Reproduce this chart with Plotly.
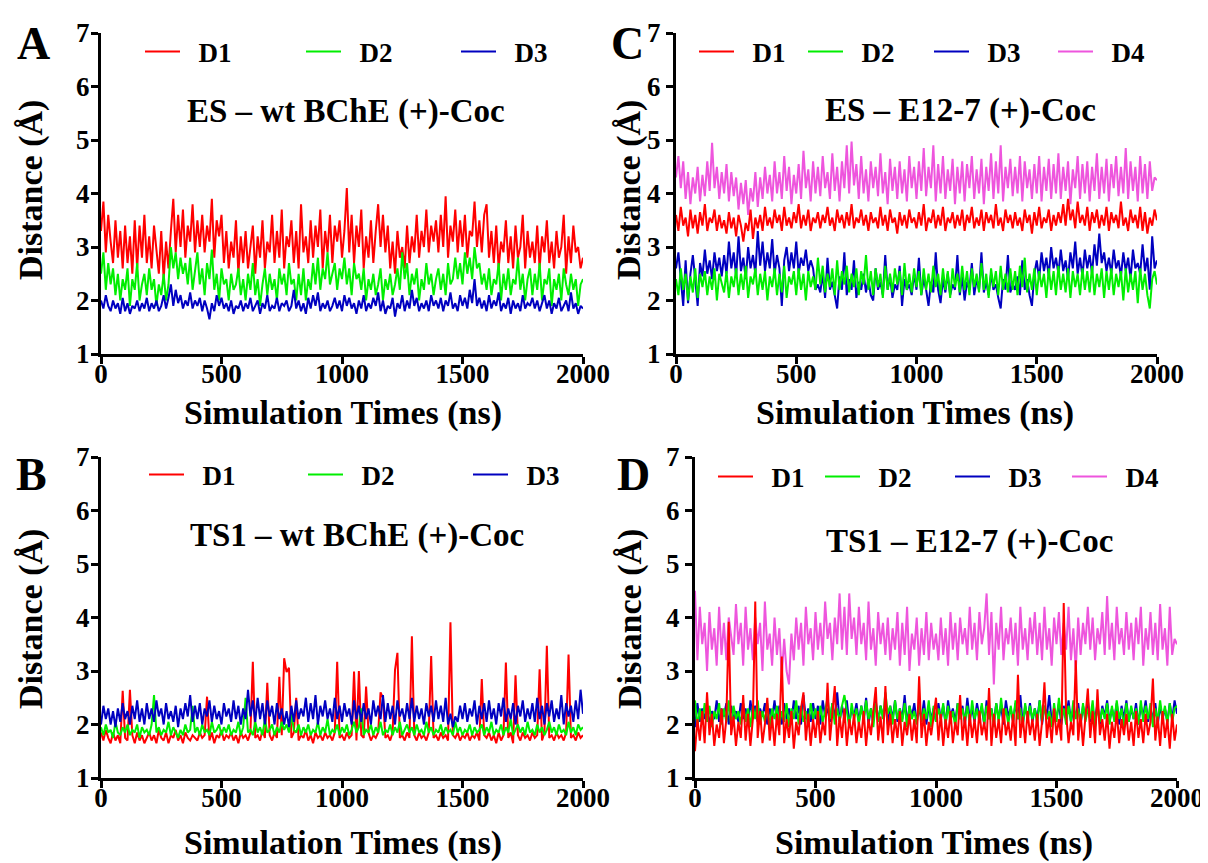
import plotly.graph_objects as go

# ---------------- data (distance in Angstrom, sampled every 10 ns) ----------------
TIMES = list(range(0, 2001, 10))
SERIES_NAMES = ["D1", "D2", "D3", "D4"]
X_TICKS = [0, 500, 1000, 1500, 2000]
Y_TICKS = [1, 2, 3, 4, 5, 6, 7]

# Panel A : ES - wt BChE (+)-Coc
A_D1 = [3.3, 3.85, 2.9, 3.6, 3.1, 2.7, 3.5, 2.8, 3.3, 2.6, 3.4, 2.7, 3.2, 2.5, 3.5, 2.6, 3.4, 2.8, 3.6, 2.7,
        3.2, 2.6, 3.4, 2.9, 2.5, 3.3, 2.4, 3.1, 2.6, 3.3, 3.9, 2.9, 3.6, 3.0, 3.7, 2.8, 3.4, 3.1, 3.8, 2.9,
        3.5, 3.0, 3.6, 2.9, 3.4, 3.1, 3.9, 2.8, 3.5, 3.2, 3.6, 2.7, 3.3, 2.6, 3.1, 2.8, 3.5, 2.5, 3.2, 2.7,
        3.3, 2.6, 3.0, 3.4, 2.5, 3.2, 2.8, 3.5, 2.6, 3.1, 2.9, 3.6, 2.7, 3.3, 2.8, 3.7, 2.6, 3.2, 3.0, 3.5,
        2.7, 3.3, 2.6, 3.8, 2.9, 3.2, 2.7, 3.5, 2.8, 3.4, 3.0, 3.7, 2.6, 3.3, 2.9, 3.6, 2.7, 3.4, 3.1, 3.5,
        2.8, 3.3, 4.1, 2.9, 3.6, 2.7, 3.4, 3.0, 3.7, 2.6, 3.2, 2.8, 3.5, 2.7, 3.3, 3.8, 3.0, 3.6, 2.9, 3.4,
        2.6, 3.1, 2.5, 3.3, 2.8, 3.0, 2.6, 3.4, 2.7, 3.2, 2.9, 3.6, 2.8, 3.3, 3.0, 3.7, 2.9, 3.4, 3.1, 3.5,
        2.9, 3.6, 3.0, 3.95, 2.8, 3.4, 3.1, 3.7, 2.9, 3.5, 3.0, 3.6, 2.8, 3.3, 3.2, 3.85, 3.0, 3.5, 2.9, 3.6,
        3.8, 2.8, 3.3, 2.7, 3.4, 2.6, 3.1, 2.9, 3.5, 2.7, 3.2, 2.6, 3.4, 2.8, 3.0, 3.6, 2.6, 3.3, 2.8, 3.1,
        2.7, 3.4, 2.6, 3.2, 2.9, 3.5, 2.7, 3.1, 2.6, 3.3, 2.8, 3.0, 3.6, 2.5, 3.2, 2.7, 3.4, 2.9, 3.0, 2.6,
        2.8]
A_D2 = [2.5, 2.9, 2.2, 2.7, 2.3, 2.6, 2.1, 2.5, 2.0, 2.4, 2.2, 2.6, 1.9, 2.4, 2.2, 2.7, 2.0, 2.3, 2.5, 2.1,
        2.6, 2.2, 2.4, 1.9, 2.3, 2.1, 2.5, 2.0, 2.3, 3.0, 2.6, 2.9, 2.4, 2.8, 2.5, 2.7, 2.3, 2.8, 2.2, 2.6,
        2.9, 2.3, 2.6, 2.1, 2.7, 2.4, 2.95, 2.2, 2.5, 2.0, 2.6, 2.3, 2.4, 2.0, 2.5, 2.2, 2.3, 2.6, 2.1, 2.4,
        2.0, 2.5, 2.2, 2.7, 2.1, 2.4, 1.9, 2.3, 2.6, 2.1, 2.5, 2.2, 2.4, 2.0, 2.6, 2.3, 2.5, 2.1, 2.7, 2.3,
        2.4, 2.0, 2.5, 2.1, 2.6, 2.0, 2.4, 2.2, 2.7, 2.3, 2.8, 2.2, 2.6, 2.4, 2.9, 2.3, 2.5, 2.7, 2.2, 2.6,
        2.4, 2.8, 2.3, 2.6, 2.1, 2.7, 2.4, 2.5, 2.2, 2.6, 2.0, 2.4, 2.2, 2.5, 2.1, 2.3, 2.6, 2.0, 2.4, 2.2,
        2.5, 2.1, 2.3, 2.6, 2.2, 2.9, 2.4, 2.7, 2.1, 2.5, 2.3, 2.6, 2.0, 2.4, 2.2, 2.7, 2.3, 2.5, 2.1, 2.4,
        2.6, 2.2, 2.5, 2.1, 2.7, 2.3, 2.4, 2.8, 2.4, 2.7, 2.3, 2.9, 2.5, 2.8, 2.4, 3.0, 2.6, 2.7, 2.3, 2.5,
        2.2, 2.6, 2.1, 2.4, 2.3, 2.7, 2.0, 2.5, 2.2, 2.6, 2.1, 2.4, 2.3, 2.8, 2.2, 2.5, 2.0, 2.4, 2.6, 2.1,
        2.5, 2.2, 2.7, 2.0, 2.4, 2.3, 2.6, 1.9, 2.4, 2.2, 2.5, 2.0, 2.6, 2.3, 2.1, 2.5, 2.2, 2.4, 1.9, 2.3,
        2.4]
A_D3 = [2.0, 1.85, 2.1, 1.9, 1.8, 2.0, 1.85, 1.95, 1.75, 2.05, 1.8, 1.95, 1.75, 1.9, 1.85, 2.0, 1.8, 1.95, 1.85, 2.05,
        1.8, 1.95, 1.85, 2.0, 1.8, 1.9, 2.1, 1.85, 2.05, 2.3, 1.9, 2.2, 1.95, 2.1, 1.85, 2.0, 1.9, 2.15, 1.85, 2.0,
        1.9, 2.05, 1.8, 2.0, 1.85, 1.65, 1.95, 1.8, 2.1, 1.9, 2.05, 1.85, 1.95, 1.8, 2.0, 1.75, 1.9, 1.85, 2.0, 1.8,
        1.95, 1.85, 2.05, 1.8, 1.9, 2.0, 1.75, 1.95, 1.85, 2.1, 1.8, 1.9, 1.85, 2.05, 1.8, 1.95, 1.9, 2.0, 1.8, 1.9,
        2.2, 1.85, 2.0, 1.8, 1.95, 1.75, 2.05, 1.85, 2.1, 1.9, 2.15, 1.8, 1.95, 1.85, 2.0, 1.8, 1.9, 2.05, 1.85, 2.0,
        1.8, 2.1, 1.9, 2.05, 1.85, 1.95, 1.75, 2.0, 1.85, 2.1, 1.8, 1.95, 1.85, 2.05, 1.9, 2.15, 1.8, 2.0, 1.75, 1.9,
        1.85, 2.05, 1.7, 1.95, 1.85, 2.1, 1.8, 2.0, 1.85, 2.2, 1.9, 2.05, 1.8, 1.95, 1.85, 2.0, 1.8, 2.1, 1.9, 2.0,
        1.85, 2.05, 1.8, 2.0, 1.9, 2.15, 1.85, 1.95, 1.8, 2.1, 1.9, 2.05, 1.85, 2.2, 1.95, 2.4, 1.9, 2.05, 1.85, 2.0,
        1.8, 2.1, 1.85, 2.0, 1.9, 2.15, 1.8, 1.95, 1.85, 2.05, 1.75, 2.0, 1.85, 1.95, 1.8, 2.1, 1.85, 1.95, 1.9, 2.05,
        1.85, 2.0, 1.8, 1.95, 2.1, 1.85, 2.0, 1.75, 1.95, 1.85, 2.05, 1.8, 1.9, 2.0, 1.8, 2.15, 1.85, 1.95, 1.75, 1.9,
        1.85]

# Panel B : TS1 - wt BChE (+)-Coc
B_D1 = [1.85, 1.7, 1.9, 1.75, 1.65, 1.85, 1.7, 1.8, 1.65, 2.63, 1.75, 1.7, 2.65, 1.8, 1.65, 1.85, 1.7, 1.8, 1.65, 1.75,
        1.85, 1.7, 1.8, 1.65, 1.9, 1.75, 1.7, 1.85, 1.65, 1.8, 1.75, 1.9, 1.7, 1.8, 1.65, 1.85, 1.75, 1.7, 1.8, 1.75,
        1.7, 1.85, 1.75, 1.8, 2.52, 1.7, 1.85, 1.65, 1.8, 1.75, 1.9, 1.7, 1.8, 1.75, 1.85, 1.7, 1.8, 1.65, 1.85, 1.75,
        1.8, 1.7, 1.85, 3.17, 1.75, 1.8, 1.7, 1.9, 1.75, 2.78, 1.8, 1.7, 1.85, 1.75, 2.89, 1.8, 3.24, 2.98, 3.06, 1.75,
        1.85, 2.5, 1.7, 1.8, 1.75, 1.9, 1.7, 1.8, 1.65, 1.85, 1.75, 1.8, 1.7, 1.85, 1.75, 1.8, 1.7, 1.85, 3.17, 1.75,
        1.8, 1.7, 1.85, 1.75, 1.8, 2.99, 1.7, 3.0, 1.8, 1.75, 2.71, 1.85, 1.7, 1.8, 1.75, 1.85, 2.6, 2.5, 1.75, 1.8,
        1.7, 1.85, 3.02, 3.34, 1.75, 1.8, 1.7, 1.85, 1.75, 3.65, 1.8, 1.7, 1.85, 1.75, 1.8, 1.7, 1.85, 3.28, 1.75, 1.8,
        1.7, 1.85, 1.75, 1.8, 1.7, 3.91, 1.8, 1.75, 1.85, 1.7, 1.8, 1.75, 1.85, 1.7, 1.8, 1.75, 1.85, 1.7, 2.85, 1.8,
        1.75, 1.85, 1.7, 1.8, 1.65, 1.85, 1.7, 1.8, 3.16, 1.75, 1.85, 1.65, 2.92, 1.8, 1.7, 1.85, 1.75, 1.8, 1.7, 1.85,
        1.75, 1.8, 3.03, 1.7, 1.85, 3.47, 1.75, 1.8, 1.7, 1.85, 1.75, 1.8, 1.7, 1.85, 3.31, 1.75, 1.8, 1.7, 1.85, 1.75,
        1.8]
B_D2 = [1.95, 1.8, 2.0, 1.85, 1.9, 1.75, 2.05, 1.85, 1.8, 1.95, 1.85, 2.0, 1.8, 1.9, 1.85, 2.0, 1.75, 1.95, 1.85, 1.9,
        1.8, 2.0, 2.55, 1.85, 1.95, 1.8, 1.9, 1.85, 2.05, 1.8, 1.95, 1.85, 1.75, 1.9, 1.8, 2.0, 1.85, 1.9, 2.35, 1.85,
        1.95, 1.8, 2.0, 1.85, 1.9, 1.8, 2.05, 1.85, 1.9, 2.0, 1.8, 1.95, 1.85, 2.0, 1.8, 1.9, 1.85, 2.05, 1.8, 1.95,
        2.5, 1.85, 1.9, 1.8, 2.05, 1.85, 1.95, 1.8, 2.1, 1.85, 1.9, 2.0, 1.8, 1.95, 1.85, 2.05, 1.9, 2.0, 1.85, 2.2,
        1.9, 1.85, 2.0, 1.8, 1.95, 1.85, 2.0, 1.8, 1.9, 1.85, 2.05, 1.8, 1.95, 1.85, 2.1, 1.8, 1.9, 1.85, 2.0, 1.8,
        1.95, 1.85, 2.0, 1.8, 1.9, 2.05, 1.85, 1.95, 2.3, 1.8, 1.9, 1.85, 2.0, 1.8, 1.95, 1.85, 2.05, 1.8, 1.9, 1.85,
        2.0, 1.8, 1.95, 1.85, 2.05, 1.8, 1.9, 2.0, 1.85, 1.95, 1.8, 2.0, 1.85, 1.9, 1.8, 2.05, 1.85, 1.95, 1.8, 1.9,
        1.85, 2.0, 1.8, 1.95, 1.85, 1.9, 1.8, 2.05, 1.85, 1.95, 1.8, 1.9, 1.85, 2.0, 1.8, 1.95, 1.85, 1.9, 2.0, 1.8,
        1.95, 1.85, 2.05, 1.8, 1.9, 1.85, 2.0, 1.8, 1.95, 1.85, 2.1, 1.8, 1.9, 2.0, 1.85, 1.95, 1.8, 2.05, 1.85, 1.9,
        1.8, 2.0, 1.85, 1.95, 1.8, 1.9, 2.05, 1.85, 1.95, 1.8, 2.0, 1.85, 1.9, 1.8, 2.05, 1.85, 1.95, 1.8, 2.0, 1.9,
        1.95]
B_D3 = [2.0, 2.35, 2.1, 2.3, 2.0, 2.25, 1.95, 2.3, 2.05, 2.4, 2.1, 2.25, 2.0, 2.35, 2.1, 2.45, 2.05, 2.3, 2.0, 2.4,
        2.1, 2.3, 2.05, 2.45, 2.15, 2.3, 2.0, 2.4, 2.1, 2.25, 2.05, 2.35, 1.95, 2.3, 2.1, 2.4, 2.15, 2.55, 2.05, 2.35,
        2.1, 2.4, 2.0, 2.3, 2.15, 2.45, 2.05, 2.35, 2.1, 2.25, 2.0, 2.4, 2.15, 2.3, 2.05, 2.45, 2.1, 2.35, 2.0, 2.3,
        2.1, 2.65, 2.15, 2.45, 2.05, 2.5, 2.1, 2.4, 2.0, 2.45, 2.15, 2.35, 2.0, 2.4, 2.1, 2.3, 2.0, 2.25, 1.95, 2.35,
        2.05, 2.45, 2.1, 2.3, 2.15, 2.5, 2.05, 2.4, 2.1, 2.55, 2.0, 2.35, 2.15, 2.45, 2.1, 2.3, 2.05, 2.5, 2.1, 2.35,
        2.05, 2.4, 2.15, 2.3, 2.0, 2.45, 2.1, 2.35, 2.05, 2.4, 2.1, 2.3, 2.0, 2.45, 2.15, 2.35, 2.1, 2.55, 2.05, 2.4,
        2.1, 2.35, 2.0, 2.45, 2.15, 2.3, 2.05, 2.4, 2.1, 2.5, 2.05, 2.35, 2.1, 2.3, 2.0, 2.4, 2.15, 2.35, 2.05, 2.45,
        2.1, 2.35, 2.05, 2.5, 2.0, 2.2, 1.95, 2.15, 2.05, 2.35, 2.1, 2.4, 2.05, 2.3, 2.15, 2.45, 2.0, 2.35, 2.1, 2.4,
        2.05, 2.45, 2.1, 2.3, 2.0, 2.4, 2.15, 2.5, 2.05, 2.3, 2.1, 2.4, 2.0, 2.35, 2.15, 2.45, 2.05, 2.3, 2.1, 2.4,
        2.05, 2.5, 2.1, 2.35, 2.0, 2.4, 2.15, 2.45, 2.05, 2.3, 2.1, 2.55, 2.0, 2.4, 2.15, 2.35, 2.05, 2.45, 2.1, 2.65,
        2.2]

# Panel C : ES - E12-7 (+)-Coc
C_D1 = [3.6, 3.3, 3.75, 3.4, 3.55, 3.2, 3.7, 3.35, 3.6, 3.25, 3.65, 3.4, 3.8, 3.3, 3.55, 3.45, 3.7, 3.3, 3.6, 3.35,
        3.5, 3.25, 3.65, 3.35, 3.55, 3.2, 3.6, 3.4, 3.1, 3.45, 3.3, 3.7, 3.15, 3.55, 3.35, 3.6, 3.3, 3.75, 3.4, 3.55,
        3.35, 3.7, 3.45, 3.6, 3.3, 3.75, 3.4, 3.55, 3.35, 3.65, 3.45, 3.8, 3.35, 3.6, 3.4, 3.7, 3.3, 3.55, 3.45, 3.65,
        3.35, 3.6, 3.45, 3.75, 3.4, 3.55, 3.3, 3.7, 3.45, 3.6, 3.35, 3.65, 3.4, 3.8, 3.35, 3.55, 3.45, 3.7, 3.4, 3.6,
        3.3, 3.65, 3.45, 3.55, 3.35, 3.75, 3.4, 3.6, 3.3, 3.7, 3.45, 3.55, 3.25, 3.65, 3.4, 3.6, 3.35, 3.7, 3.45, 3.55,
        3.35, 3.65, 3.4, 3.8, 3.3, 3.55, 3.45, 3.7, 3.35, 3.6, 3.4, 3.75, 3.3, 3.55, 3.45, 3.65, 3.35, 3.6, 3.4, 3.7,
        3.3, 3.6, 3.45, 3.75, 3.35, 3.55, 3.4, 3.7, 3.3, 3.65, 3.45, 3.6, 3.35, 3.8, 3.4, 3.55, 3.3, 3.7, 3.45, 3.6,
        3.35, 3.65, 3.4, 3.55, 3.3, 3.7, 3.45, 3.6, 3.25, 3.65, 3.4, 3.75, 3.35, 3.55, 3.45, 3.7, 3.3, 3.6, 3.4, 3.65,
        3.45, 3.8, 3.4, 3.9, 3.5, 3.7, 3.35, 3.85, 3.45, 3.6, 3.4, 3.75, 3.3, 3.65, 3.45, 3.7, 3.35, 3.6, 3.4, 3.75,
        3.3, 3.65, 3.45, 3.6, 3.35, 3.85, 3.4, 3.55, 3.3, 3.7, 3.45, 3.6, 3.35, 3.75, 3.3, 3.65, 3.25, 3.55, 3.4, 3.7,
        3.5]
C_D2 = [2.4, 2.1, 2.6, 2.2, 2.5, 2.0, 2.45, 2.15, 2.6, 2.05, 2.5, 2.25, 2.55, 2.1, 2.45, 2.2, 2.6, 2.0, 2.5, 2.3,
        2.15, 2.55, 2.05, 2.45, 2.25, 2.6, 2.1, 2.5, 2.2, 2.65, 2.05, 2.45, 2.3, 2.6, 2.1, 2.5, 2.2, 2.55, 2.0, 2.45,
        2.25, 2.6, 2.1, 2.5, 2.15, 2.65, 2.05, 2.45, 2.3, 2.55, 2.1, 2.6, 2.2, 2.5, 2.0, 2.55, 2.25, 2.45, 2.2, 2.8,
        2.3, 2.65, 2.15, 2.5, 2.25, 2.6, 2.1, 2.75, 2.2, 2.55, 2.3, 2.65, 2.15, 2.5, 2.25, 2.6, 2.1, 2.55, 2.3, 2.85,
        2.2, 2.55, 2.1, 2.6, 2.25, 2.5, 2.05, 2.65, 2.2, 2.5, 2.15, 2.6, 2.3, 2.55, 2.1, 2.7, 2.2, 2.5, 2.15, 2.6,
        2.25, 2.55, 2.1, 2.6, 2.2, 2.5, 2.15, 2.65, 2.25, 2.5, 2.1, 2.6, 2.2, 2.55, 2.05, 2.6, 2.25, 2.5, 2.15, 2.65,
        2.2, 2.55, 2.1, 2.6, 2.25, 2.5, 2.15, 2.7, 2.2, 2.5, 2.05, 2.6, 2.25, 2.55, 2.1, 2.65, 2.2, 2.5, 2.15, 2.6,
        2.2, 2.55, 2.1, 2.65, 2.25, 2.8, 2.15, 2.5, 2.2, 2.6, 2.1, 2.55, 2.25, 2.5, 2.05, 2.6, 2.2, 2.55, 2.1, 2.65,
        2.2, 2.5, 2.15, 2.6, 2.05, 2.55, 2.25, 2.5, 2.1, 2.6, 2.2, 2.55, 2.15, 2.65, 2.1, 2.5, 2.25, 2.6, 2.05, 2.55,
        2.2, 2.6, 2.1, 2.5, 2.25, 2.55, 2.0, 2.6, 2.15, 2.5, 2.2, 2.55, 1.95, 2.6, 2.2, 2.5, 2.1, 1.85, 2.4, 2.55,
        2.3]
C_D3 = [2.6, 2.9, 2.4, 1.9, 2.75, 1.95, 2.5, 2.85, 2.4, 1.9, 2.7, 2.45, 2.95, 2.5, 2.75, 2.4, 2.9, 2.55, 2.8, 2.45,
        2.85, 2.5, 3.1, 2.6, 2.9, 2.45, 3.2, 2.55, 2.8, 2.4, 3.0, 2.6, 2.85, 2.5, 3.3, 2.65, 3.1, 2.55, 2.9, 2.6,
        3.15, 2.5, 2.85, 2.6, 1.9, 2.75, 3.0, 2.55, 2.9, 2.6, 3.1, 2.5, 2.8, 2.65, 2.95, 2.55, 2.75, 2.6, 2.2, 2.3,
        2.15, 2.5, 2.05, 2.8, 2.2, 2.35, 2.1, 1.85, 2.45, 2.2, 2.9, 2.1, 2.4, 2.2, 2.75, 2.05, 2.35, 2.2, 2.5, 2.15,
        2.4, 2.1, 2.0, 2.6, 2.2, 2.35, 2.1, 2.85, 2.2, 2.45, 2.05, 2.3, 2.2, 2.65, 1.9, 2.4, 2.2, 2.3, 2.1, 2.5,
        2.2, 2.8, 2.1, 2.4, 2.2, 1.9, 2.35, 2.15, 2.9, 2.2, 1.95, 2.4, 2.15, 2.5, 2.1, 2.3, 2.2, 2.85, 2.1, 2.45,
        2.0, 2.35, 2.2, 2.7, 2.1, 2.4, 2.2, 2.9, 2.15, 2.35, 2.1, 2.5, 2.2, 2.3, 2.05, 1.85, 2.4, 2.2, 2.85, 2.15,
        2.3, 2.2, 2.45, 2.1, 2.75, 2.2, 2.4, 2.1, 1.9, 2.5, 2.75, 2.4, 2.9, 2.55, 2.8, 2.45, 3.0, 2.6, 2.8, 2.5,
        2.95, 2.55, 2.75, 2.4, 2.9, 2.6, 3.1, 2.5, 2.8, 2.45, 2.95, 2.6, 2.85, 2.5, 3.05, 2.65, 3.25, 2.7, 2.9, 2.55,
        2.8, 2.5, 2.95, 2.6, 2.75, 2.45, 2.9, 2.55, 2.8, 2.4, 2.95, 2.6, 2.7, 2.5, 3.05, 2.55, 2.8, 2.2, 3.2, 2.6,
        2.75]
C_D4 = [4.3, 4.7, 4.1, 4.6, 3.9, 4.4, 3.8, 4.3, 4.0, 4.5, 3.85, 4.35, 3.95, 4.6, 4.05, 4.95, 4.1, 4.5, 3.9, 4.4,
        4.0, 4.55, 3.85, 4.4, 3.95, 4.3, 3.7, 4.2, 3.8, 4.25, 3.6, 4.1, 3.85, 4.4, 3.75, 4.3, 3.9, 4.5, 4.0, 4.35,
        3.85, 4.6, 4.0, 4.4, 3.9, 4.7, 4.05, 4.5, 3.8, 4.35, 4.0, 4.55, 3.9, 4.8, 4.1, 4.45, 3.85, 4.6, 4.0, 4.5,
        3.95, 4.7, 4.1, 4.4, 3.9, 4.75, 4.05, 4.5, 3.85, 4.6, 4.1, 4.9, 4.0, 4.97, 4.15, 4.55, 3.9, 4.7, 4.0, 4.45,
        3.85, 4.6, 4.1, 4.5, 3.95, 4.75, 4.0, 4.4, 3.8, 4.65, 4.05, 4.5, 3.9, 4.6, 4.0, 4.45, 3.85, 4.7, 4.1, 4.5,
        3.9, 4.6, 4.05, 4.85, 3.95, 4.5, 4.1, 4.9, 3.85, 4.55, 4.0, 4.7, 3.9, 4.45, 4.05, 4.65, 3.8, 4.5, 4.0, 4.6,
        3.85, 4.55, 4.1, 4.7, 3.9, 4.45, 4.0, 4.65, 3.8, 4.5, 4.05, 4.75, 3.9, 4.6, 4.0, 4.9, 3.85, 4.5, 4.1, 4.65,
        3.95, 4.5, 4.0, 4.7, 3.85, 4.6, 4.1, 4.45, 3.9, 4.55, 4.0, 4.7, 3.85, 4.5, 4.05, 4.65, 3.9, 4.55, 4.0, 4.75,
        3.9, 4.5, 4.05, 4.6, 3.8, 4.45, 4.1, 4.7, 3.9, 4.55, 4.0, 4.6, 3.85, 4.5, 4.05, 4.75, 3.9, 4.5, 4.0, 4.65,
        3.85, 4.55, 4.1, 4.7, 3.95, 4.5, 4.0, 4.85, 3.9, 4.6, 4.05, 4.5, 3.85, 4.7, 4.0, 4.55, 3.9, 4.6, 4.05, 4.3,
        4.25]

# Panel D : TS1 - E12-7 (+)-Coc
D_D1 = [1.5, 2.1, 1.7, 2.25, 1.65, 2.6, 1.8, 2.2, 1.6, 2.0, 1.75, 2.3, 1.65, 2.1, 3.92, 1.8, 2.15, 1.6, 2.05, 1.75,
        2.55, 1.7, 2.2, 1.6, 2.1, 4.3, 1.75, 2.25, 1.65, 2.0, 2.5, 1.7, 2.15, 1.6, 2.2, 1.8, 3.27, 1.65, 2.1, 1.75,
        2.25, 1.55, 2.05, 1.8, 2.3, 2.6, 1.7, 2.2, 1.6, 2.1, 1.75, 2.25, 1.65, 2.05, 1.8, 2.78, 1.7, 2.2, 2.72, 1.6,
        2.15, 1.75, 2.3, 1.6, 2.1, 1.8, 2.2, 1.65, 2.05, 1.75, 2.25, 1.6, 2.1, 1.8, 2.2, 2.7, 1.7, 2.15, 1.65, 2.72,
        1.8, 2.2, 1.65, 2.1, 1.75, 2.25, 1.6, 2.05, 1.8, 2.2, 1.7, 2.1, 1.65, 2.9, 1.75, 2.2, 1.6, 2.05, 1.8, 2.15,
        2.5, 1.7, 2.2, 1.6, 2.1, 1.75, 2.25, 1.65, 2.05, 1.8, 2.55, 1.7, 2.15, 1.6, 2.2, 1.75, 2.1, 1.65, 2.25, 1.8,
        2.05, 1.7, 2.68, 1.6, 2.2, 1.75, 2.1, 1.65, 2.3, 1.8, 2.05, 1.7, 2.2, 1.6, 2.93, 1.75, 2.15, 1.65, 2.25, 1.8,
        2.1, 1.7, 2.2, 1.6, 2.05, 2.79, 1.75, 2.15, 1.65, 2.3, 1.8, 2.1, 1.7, 4.27, 2.2, 1.65, 2.05, 1.8, 3.2, 1.7,
        2.2, 1.6, 2.1, 2.67, 1.75, 2.25, 1.65, 2.66, 1.8, 2.1, 1.7, 2.2, 1.55, 2.05, 1.75, 2.25, 1.65, 2.1, 1.8, 2.2,
        1.7, 2.05, 1.6, 2.25, 1.75, 2.1, 1.65, 2.2, 1.8, 2.05, 2.86, 1.7, 2.15, 1.6, 2.25, 1.75, 2.1, 1.55, 2.2, 1.7,
        2.0]
D_D2 = [2.45, 1.95, 2.3, 2.0, 2.4, 2.05, 2.35, 1.95, 2.25, 2.1, 2.4, 2.0, 2.3, 2.05, 2.45, 1.95, 2.35, 2.1, 2.25, 2.0,
        2.4, 2.05, 2.3, 1.95, 2.35, 2.1, 2.45, 2.0, 2.25, 2.05, 2.4, 1.95, 2.3, 2.1, 2.35, 2.0, 2.25, 2.05, 2.4, 1.95,
        2.3, 2.1, 2.45, 2.0, 2.35, 2.05, 2.25, 1.95, 2.4, 2.1, 2.3, 2.0, 2.35, 2.05, 2.25, 2.5, 2.1, 2.4, 2.0, 2.3,
        2.05, 2.35, 2.55, 2.25, 1.95, 2.4, 2.1, 2.3, 2.0, 2.35, 2.05, 2.45, 2.1, 2.3, 1.95, 2.4, 2.05, 2.35, 2.1, 2.6,
        2.2, 2.35, 2.0, 2.45, 2.1, 2.3, 2.05, 2.4, 1.95, 2.35, 2.1, 2.25, 2.0, 2.4, 2.05, 2.3, 2.1, 2.45, 1.95, 2.35,
        2.05, 2.3, 2.1, 2.4, 2.0, 2.35, 2.05, 2.25, 1.95, 2.4, 2.1, 2.3, 2.05, 2.35, 2.0, 2.45, 2.1, 2.3, 2.05, 2.4,
        2.0, 2.35, 2.1, 2.3, 1.95, 2.4, 2.05, 2.5, 2.1, 2.3, 2.0, 2.35, 2.05, 2.45, 2.1, 2.3, 1.95, 2.4, 2.05, 2.35,
        2.1, 2.3, 2.0, 2.45, 2.05, 2.35, 2.1, 2.25, 1.95, 2.4, 2.05, 2.5, 2.1, 2.3, 2.0, 2.35, 2.05, 2.45, 2.1, 2.3,
        2.0, 2.4, 2.05, 2.3, 2.1, 2.45, 1.95, 2.35, 2.05, 2.3, 2.1, 2.4, 2.0, 2.35, 2.05, 2.45, 2.1, 2.3, 1.95, 2.4,
        2.05, 2.35, 2.1, 2.3, 2.0, 2.45, 2.05, 2.35, 2.1, 2.4, 1.95, 2.3, 2.05, 2.45, 2.1, 2.35, 2.0, 2.4, 2.05, 2.3,
        2.35]
D_D3 = [1.95, 2.4, 2.05, 2.3, 2.1, 2.35, 2.0, 2.25, 2.1, 2.45, 2.05, 2.3, 2.15, 2.4, 2.0, 2.35, 2.1, 2.25, 2.05, 2.4,
        2.1, 2.3, 2.0, 2.45, 2.1, 2.35, 2.05, 2.3, 2.15, 2.4, 2.0, 2.3, 2.1, 2.45, 2.05, 2.35, 2.0, 2.4, 2.1, 2.3,
        2.05, 2.45, 2.1, 2.35, 2.0, 2.55, 2.1, 2.3, 2.05, 2.4, 2.1, 2.35, 2.0, 2.45, 2.15, 2.3, 2.05, 2.4, 2.1, 2.6,
        2.05, 2.35, 2.1, 2.45, 2.0, 2.3, 2.15, 2.4, 2.05, 2.35, 2.1, 2.5, 2.0, 2.3, 2.1, 2.45, 2.05, 2.35, 2.15, 2.4,
        2.0, 2.35, 2.1, 2.45, 2.05, 2.3, 2.1, 2.55, 2.0, 2.35, 2.15, 2.4, 2.05, 2.3, 2.1, 2.45, 2.0, 2.35, 2.1, 2.3,
        2.05, 2.4, 2.1, 2.35, 2.0, 2.45, 2.15, 2.3, 2.05, 2.4, 2.1, 2.35, 2.0, 2.5, 2.1, 2.3, 2.05, 2.4, 2.15, 2.35,
        2.0, 2.45, 2.1, 2.3, 2.05, 2.4, 2.1, 2.35, 2.0, 2.45, 2.15, 2.3, 2.05, 2.4, 2.1, 2.55, 2.0, 2.35, 2.1, 2.4,
        2.05, 2.3, 2.1, 2.45, 2.0, 2.35, 2.15, 2.55, 2.05, 2.3, 2.1, 2.4, 2.0, 2.35, 2.1, 2.45, 2.05, 2.3, 2.15, 2.4,
        2.0, 2.35, 2.1, 2.45, 2.05, 2.3, 2.1, 2.4, 2.0, 2.35, 2.15, 2.45, 2.05, 2.3, 2.1, 2.4, 2.0, 2.35, 2.1, 2.45,
        2.05, 2.3, 2.1, 2.4, 2.0, 2.35, 2.15, 2.45, 2.05, 2.3, 2.1, 2.4, 2.0, 2.35, 2.1, 2.3, 2.05, 2.4, 2.1, 2.45,
        2.2]
D_D4 = [4.5, 3.2, 4.2, 3.5, 3.9, 3.0, 4.1, 3.4, 3.8, 3.1, 4.2, 3.3, 3.9, 3.2, 4.0, 3.6, 3.3, 4.25, 3.5, 3.9,
        3.1, 4.2, 3.4, 3.8, 3.2, 4.0, 3.5, 3.9, 3.0, 4.3, 3.4, 3.7, 3.1, 4.0, 3.3, 3.8, 2.9, 3.6, 3.0, 2.75,
        3.7, 3.2, 4.0, 3.4, 3.9, 3.1, 4.2, 3.5, 3.8, 3.2, 4.1, 3.4, 3.9, 3.3, 4.3, 3.6, 3.9, 3.2, 4.0, 3.5,
        4.45, 3.4, 4.2, 3.3, 4.45, 3.6, 4.0, 3.3, 4.2, 3.5, 3.9, 3.2, 4.3, 3.4, 3.8, 3.1, 4.1, 3.5, 3.9, 3.3,
        4.0, 3.2, 3.8, 3.4, 4.1, 3.1, 3.9, 3.3, 4.2, 3.0, 3.7, 3.4, 4.0, 3.1, 3.8, 3.3, 4.1, 3.2, 3.9, 3.4,
        3.7, 3.2, 4.0, 3.3, 3.8, 3.1, 4.1, 3.4, 3.9, 3.2, 4.0, 3.5, 3.8, 3.3, 4.2, 3.4, 3.9, 3.2, 4.1, 3.5,
        3.8, 4.45, 3.3, 4.1, 2.75, 3.9, 3.4, 4.2, 3.2, 3.8, 3.5, 4.0, 3.3, 3.9, 3.1, 4.2, 3.4, 3.8, 3.2, 4.0,
        3.5, 4.1, 3.3, 3.9, 3.2, 4.2, 3.4, 3.8, 3.1, 4.0, 3.5, 4.1, 3.3, 3.9, 3.4, 4.2, 3.2, 3.8, 3.0, 4.0,
        3.3, 3.9, 3.5, 4.2, 3.4, 4.0, 3.2, 3.8, 3.5, 4.1, 3.3, 4.4, 3.4, 3.9, 3.2, 4.2, 3.5, 3.8, 3.3, 4.1,
        3.4, 3.9, 3.2, 4.0, 3.5, 4.2, 3.1, 3.8, 3.4, 4.1, 3.3, 3.9, 3.2, 4.25, 3.4, 3.8, 3.1, 4.2, 3.3, 3.6,
        3.5]

PANEL_TITLES = ["ES \u2013 wt BChE (+)-Coc", "TS1 \u2013 wt BChE (+)-Coc",
                "ES \u2013 E12-7 (+)-Coc", "TS1 \u2013 E12-7 (+)-Coc"]
PANEL_LETTERS = ["A", "B", "C", "D"]
X_TITLE = "Simulation Times (ns)"
Y_TITLE = "Distance (\u00c5)"

# ---------------- styling ----------------
# the page body adds an 8 px margin, so the figure is 8 px smaller and positions are shifted
OFF = 8
W, H = 1200, 855
FONT = "Liberation Serif, Times New Roman, serif"
COLORS = {"D1": "#FF0000", "D2": "#00EE00", "D3": "#0000C0", "D4": "#EE55DD"}


def px(x):
    return (x - OFF) / W


def py(y):
    return 1 - (y - OFF) / H


panels = [
    dict(sfx="", data=[A_D1, A_D2, A_D3], order=[0, 1, 2], xd=(101, 583), yd=(33, 354),
         leg=dict(x=140, y=52, ew=[111, 105, 100]), ystand=-4,
         letter=(33, 43), title=(346, 112), ytitle=(31, 190), xtitle=(343, 413)),
    dict(sfx="2", data=[B_D1, B_D2, B_D3], order=[0, 1, 2], xd=(101, 583), yd=(457, 778),
         leg=dict(x=144, y=475, ew=[109, 115, 100]), ystand=-4,
         letter=(31, 474), title=(357, 535), ytitle=(31, 619), xtitle=(343, 843)),
    dict(sfx="3", data=[C_D1, C_D2, C_D3, C_D4], order=[3, 2, 1, 0], xd=(676, 1157), yd=(33, 354),
         leg=dict(x=694, y=52, ew=[59, 76, 74, 60]), ystand=0,
         letter=(627, 43), title=(960, 110), ytitle=(629, 190), xtitle=(915, 413)),
    dict(sfx="4", data=[D_D1, D_D2, D_D3, D_D4], order=[3, 2, 1, 0], xd=(695, 1177), yd=(457, 778),
         leg=dict(x=713, y=477, ew=[57, 80, 67, 60]), ystand=0,
         letter=(633, 474), title=(969, 541), ytitle=(630, 619), xtitle=(934, 843)),
]

fig = go.Figure()
layout = dict(width=W, height=H, margin=dict(l=0, r=0, t=0, b=0, autoexpand=False),
              paper_bgcolor="white", plot_bgcolor="white", showlegend=True,
              font=dict(family=FONT, color="black"))
annotations = []


def add_text(text, pos, size, angle=0):
    annotations.append(dict(text=text, x=px(pos[0]), y=py(pos[1]), xref="paper", yref="paper",
                            xanchor="center", yanchor="middle", showarrow=False, textangle=angle,
                            font=dict(family=FONT, size=size, color="black", weight="bold")))


for i, p in enumerate(panels):
    sfx = p["sfx"]
    legname = "legend" + sfx
    lg = p["leg"]
    for k in p["order"]:
        name = SERIES_NAMES[k]
        fig.add_trace(go.Scatter(
            x=TIMES, y=p["data"][k], mode="lines", name="\u00a0\u00a0" + name,
            line=dict(color=COLORS[name], width=2.0),
            xaxis="x" + sfx, yaxis="y" + sfx, legend=legname, legendrank=k + 1,
            legendwidth=lg["ew"][k], hoverinfo="skip"))
    axis_common = dict(showline=True, linecolor="black", linewidth=3, mirror=False,
                       ticks="outside", ticklen=7, tickwidth=3, tickcolor="black",
                       showgrid=False, zeroline=False, automargin=False,
                       tickfont=dict(family=FONT, size=27, color="black", weight="bold"))
    layout["xaxis" + sfx] = dict(axis_common, domain=[px(p["xd"][0]), px(p["xd"][1])],
                                 anchor="y" + sfx, range=[0, 2000], tickvals=X_TICKS,
                                 ticklabelstandoff=-13)
    layout["yaxis" + sfx] = dict(axis_common, domain=[py(p["yd"][1]), py(p["yd"][0])],
                                 anchor="x" + sfx, range=[1, 7], tickvals=Y_TICKS,
                                 ticklabelstandoff=p["ystand"])
    layout[legname] = dict(orientation="h", x=px(lg["x"]), y=py(lg["y"]),
                           xanchor="left", yanchor="middle", bgcolor="rgba(0,0,0,0)",
                           borderwidth=0, itemwidth=35, entrywidthmode="pixels",
                           traceorder="normal",
                           font=dict(family=FONT, size=27, color="black", weight="bold"),
                           itemclick=False, itemdoubleclick=False)
    add_text(PANEL_LETTERS[i], p["letter"], 46)
    add_text(PANEL_TITLES[i], p["title"], 33)
    add_text(Y_TITLE, p["ytitle"], 34, angle=-90)
    add_text(X_TITLE, p["xtitle"], 34)

layout["annotations"] = annotations
fig.update_layout(**layout)
fig.write_html("out.html")
